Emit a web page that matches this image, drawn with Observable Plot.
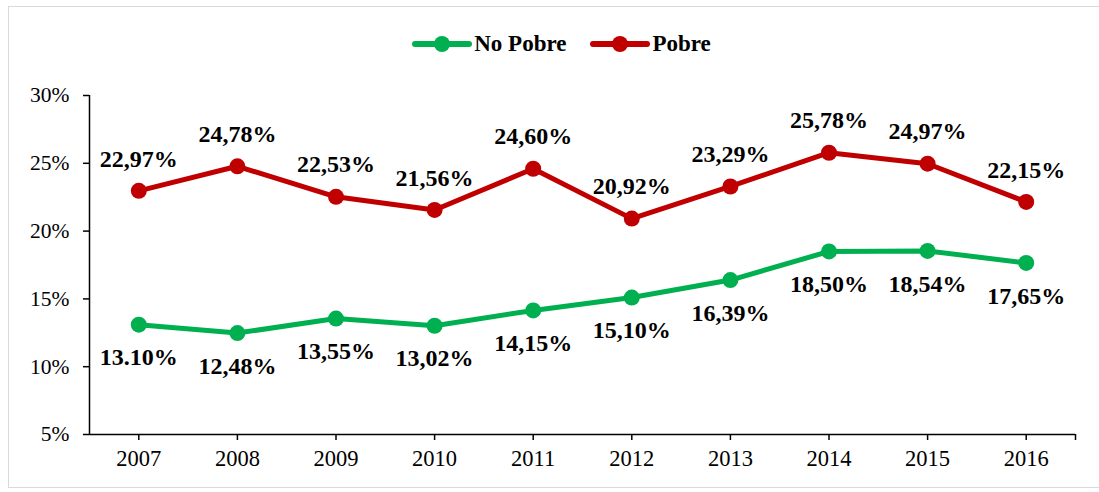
<!DOCTYPE html>
<html>
<head>
<meta charset="utf-8">
<script src="https://cdn.jsdelivr.net/npm/d3@7"></script>
<script src="https://cdn.jsdelivr.net/npm/@observablehq/plot@0.6"></script>
<style>
  body { margin: 0; background: #fff; font-family: "Liberation Serif", "Times New Roman", serif; }
  #wrap { position: relative; width: 1099px; height: 492px; overflow: hidden; }
  #border { position: absolute; left: 8px; top: 6px; width: 1200px; height: 482px; border: 1px solid #d9d9d9; box-sizing: border-box; }
  #legend { position: absolute; top: 31px; left: 12px; width: 1099px; display: flex; justify-content: center; align-items: center; gap: 24px; font-weight: bold; font-size: 23px; color: #000; }
  .item { display: flex; align-items: center; gap: 2px; }
  #chart { position: absolute; left: 0; top: 0; }
</style>
</head>
<body>
<div id="wrap">
  <div id="border"></div>
  <div id="legend"></div>
  <div id="chart"></div>
</div>
<script>
const years = [2007, 2008, 2009, 2010, 2011, 2012, 2013, 2014, 2015, 2016];
const noPobre = [13.10, 12.48, 13.55, 13.02, 14.15, 15.10, 16.39, 18.50, 18.54, 17.65];
const pobre = [22.97, 24.78, 22.53, 21.56, 24.60, 20.92, 23.29, 25.78, 24.97, 22.15];
const noPobreLabels = ["13.10%", "12,48%", "13,55%", "13,02%", "14,15%", "15,10%", "16,39%", "18,50%", "18,54%", "17,65%"];
const pobreLabels = ["22,97%", "24,78%", "22,53%", "21,56%", "24,60%", "20,92%", "23,29%", "25,78%", "24,97%", "22,15%"];
const seriesNames = ["No Pobre", "Pobre"];
const seriesColors = ["#00B050", "#C00000"];
const yTicks = [5, 10, 15, 20, 25, 30];

const rows = [];
years.forEach((y, i) => {
  rows.push({year: y, value: noPobre[i], label: noPobreLabels[i], series: seriesNames[0]});
  rows.push({year: y, value: pobre[i], label: pobreLabels[i], series: seriesNames[1]});
});
const green = rows.filter(d => d.series === seriesNames[0]);
const red = rows.filter(d => d.series === seriesNames[1]);

const xMin = years[0] - 0.5, xMax = years[years.length - 1] + 0.5;
const xFmt = d => Number.isInteger(d) ? String(d) : "";

const chart = Plot.plot({
  width: 1099,
  height: 492,
  marginTop: 95,
  marginBottom: 58,
  marginLeft: 89,
  marginRight: 24,
  style: { fontFamily: "'Liberation Serif', 'Times New Roman', serif", fontSize: "21px", color: "#000", background: "transparent" },
  x: { domain: [xMin, xMax], label: null },
  y: { domain: [5, 30], label: null },
  color: { domain: seriesNames, range: seriesColors },
  marks: [
    Plot.axisX({ ticks: [...years, xMax], tickFormat: xFmt, tickSize: 6, tickPadding: 10, fontSize: 22.5, strokeWidth: 1.5 }),
    Plot.axisY({ ticks: yTicks, tickFormat: d => d + "%", tickSize: 6, tickPadding: 14, fontSize: 21.5, strokeWidth: 1.5 }),
    Plot.ruleY([5], { stroke: "#000", strokeWidth: 1.5 }),
    Plot.ruleX([xMin], { y1: 5, y2: 30, stroke: "#000", strokeWidth: 1.5 }),
    Plot.line(rows, { x: "year", y: "value", z: "series", stroke: "series", strokeWidth: 5 }),
    Plot.dot(rows, { x: "year", y: "value", fill: "series", r: 8 }),
    Plot.text(red, { x: "year", y: "value", text: "label", dy: -32, fontWeight: "bold", fontSize: 24, fill: "#000" }),
    Plot.text(green, { x: "year", y: "value", text: "label", dy: 33, fontWeight: "bold", fontSize: 24, fill: "#000" })
  ]
});
document.getElementById("chart").appendChild(chart);

const legend = document.getElementById("legend");
seriesNames.forEach((name, i) => {
  const item = document.createElement("div");
  item.className = "item";
  item.innerHTML = `<svg width="60" height="20"><line x1="3" y1="10" x2="57" y2="10" stroke="${seriesColors[i]}" stroke-width="6" stroke-linecap="round"/><circle cx="30" cy="10" r="8" fill="${seriesColors[i]}"/></svg><span>${name}</span>`;
  legend.appendChild(item);
});
</script>
</body>
</html>
